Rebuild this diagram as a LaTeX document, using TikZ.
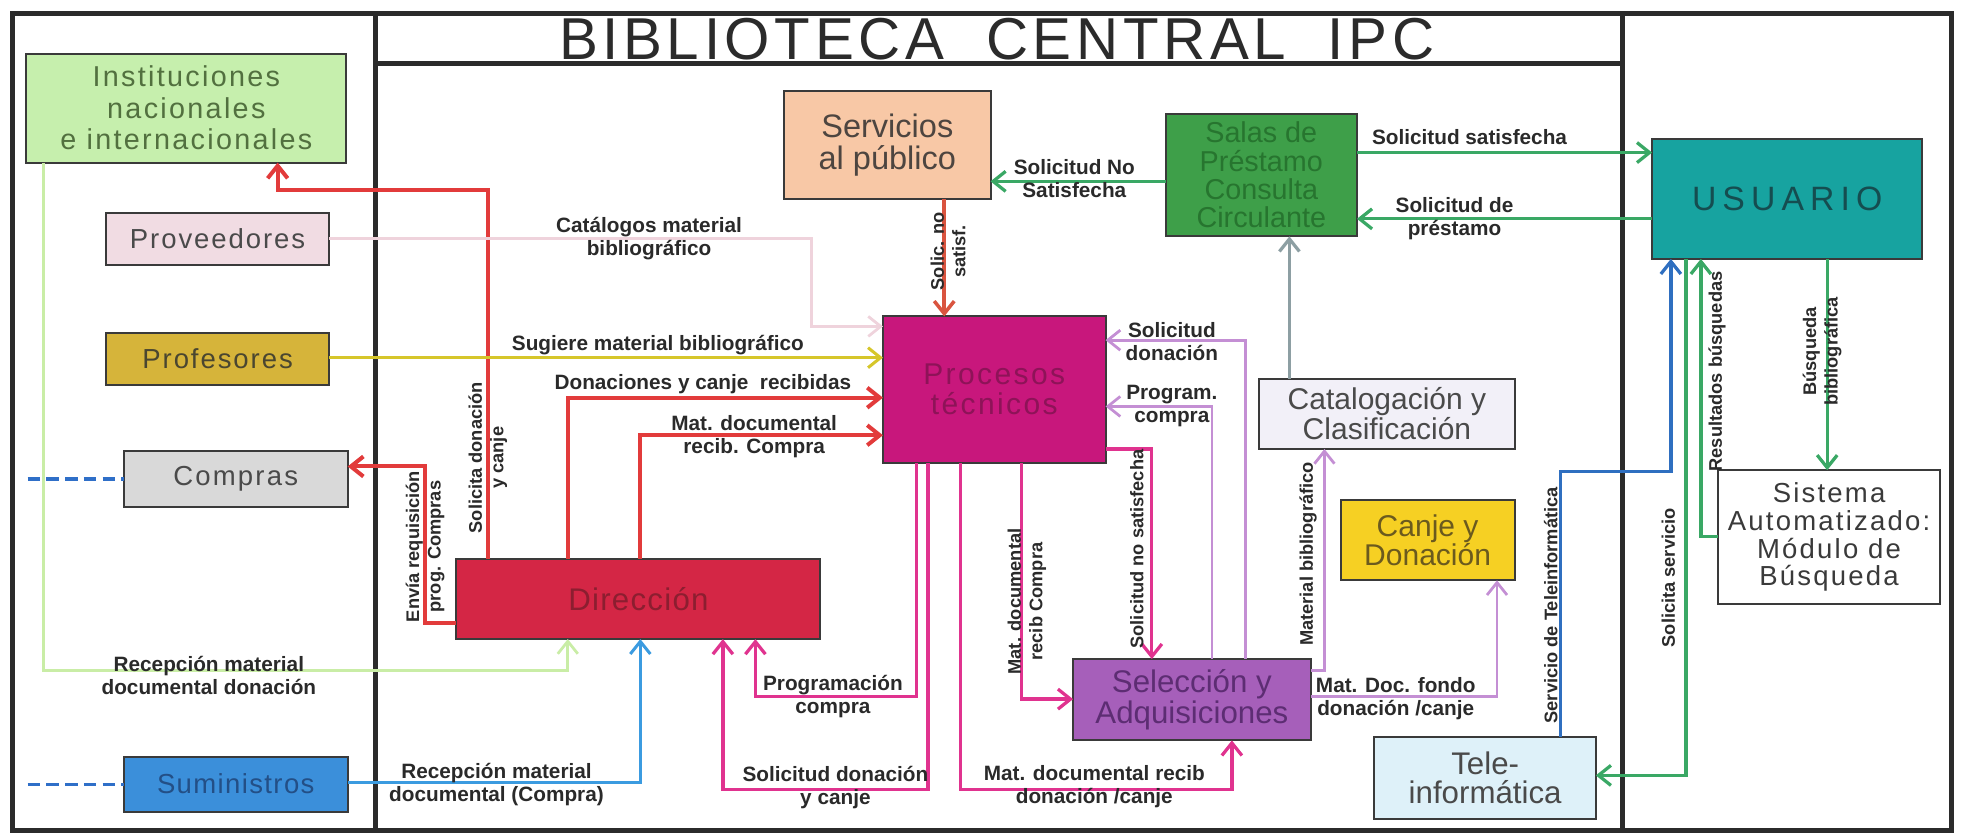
\documentclass[tikz,border=0pt]{standalone}
\usepackage{fontspec}
\setmainfont{Liberation Sans}
\usepackage{graphicx}
\usetikzlibrary{arrows.meta}

\newcommand\setfs[2]{\fontsize{#1}{#2}\selectfont}
\newcommand\lsp[1]{\addfontfeatures{LetterSpace=#1}}

% frame and text colours
\definecolor{cFrame}{HTML}{2B2B2B}
\definecolor{cEdge}{HTML}{3A3A3A}
\definecolor{cLabel}{HTML}{2A2A2A}
% box fills
\definecolor{fInst}{HTML}{C6EFAD}
\definecolor{fProv}{HTML}{F1DCE3}
\definecolor{fProf}{HTML}{D6B43A}
\definecolor{fComp}{HTML}{D9D9D9}
\definecolor{fSum}{HTML}{3B8FDA}
\definecolor{fDir}{HTML}{D42645}
\definecolor{fServ}{HTML}{F8C8A6}
\definecolor{fSalas}{HTML}{3E9F49}
\definecolor{fUsu}{HTML}{17A3A0}
\definecolor{fProc}{HTML}{C8177C}
\definecolor{fCat}{HTML}{F2F0F8}
\definecolor{fCanje}{HTML}{F6D023}
\definecolor{fSel}{HTML}{A65FBA}
\definecolor{fTele}{HTML}{DEF1F9}
% box texts
\definecolor{tInst}{HTML}{52703F}
\definecolor{tGray}{HTML}{4A4A4A}
\definecolor{tProf}{HTML}{4A4630}
\definecolor{tSum}{HTML}{234F86}
\definecolor{tDir}{HTML}{8C1E30}
\definecolor{tServ}{HTML}{4D4540}
\definecolor{tSalas}{HTML}{27752F}
\definecolor{tUsu}{HTML}{154D50}
\definecolor{tProc}{HTML}{8E1358}
\definecolor{tCanje}{HTML}{6B5A1E}
\definecolor{tSel}{HTML}{5D2D73}
\definecolor{tSist}{HTML}{3A3A3A}
% connector colours
\definecolor{cRed}{HTML}{E23B3B}
\definecolor{cMag}{HTML}{E0338F}
\definecolor{cLav}{HTML}{C48FD4}
\definecolor{cPink}{HTML}{EFD3DC}
\definecolor{cYel}{HTML}{D6C62A}
\definecolor{cLG}{HTML}{C9EDA6}
\definecolor{cBlue}{HTML}{3B9BE0}
\definecolor{cDBlue}{HTML}{2F6FC0}
\definecolor{cGreen}{HTML}{3AA865}
\definecolor{cGrayA}{HTML}{8D9FA3}
\definecolor{cOrange}{HTML}{D9543F}
\definecolor{cDash}{HTML}{2F6FC8}

\begin{document}
\begin{tikzpicture}[x=0.5pt,y=-0.5pt,
  box/.style={draw=cEdge, line width=0.8pt, align=center, inner sep=1pt, outer sep=0pt, anchor=north west},
  lbl/.style={font=\bfseries\setfs{8.3}{9.2}, text=cLabel, align=center, inner sep=0pt},
  vlbl/.style={lbl, font=\bfseries\setfs{7.3}{8.6}, rotate=90},
  arr/.style={-{Straight Barb[length=5pt,width=8pt]}},
  frameline/.style={draw=cFrame, line width=2pt},
  redc/.style={draw=cRed, line width=1.6pt, arr},
  magc/.style={draw=cMag, line width=1.3pt, arr},
  lavc/.style={draw=cLav, line width=1.1pt, arr},
  pinkc/.style={draw=cPink, line width=1.1pt, arr},
  yelc/.style={draw=cYel, line width=1.2pt, arr},
  lgc/.style={draw=cLG, line width=1.1pt, arr},
  bluec/.style={draw=cBlue, line width=1.2pt, arr},
  dbluec/.style={draw=cDBlue, line width=1.3pt, arr},
  grc/.style={draw=cGreen, line width=1.3pt, arr},
  grayc/.style={draw=cGrayA, line width=1.3pt, arr},
  orc/.style={draw=cOrange, line width=1.4pt, arr},
  dashc/.style={draw=cDash, line width=1.3pt, dash pattern=on 5pt off 2.5pt}]

\useasboundingbox (0,0) rectangle (1568,668);
\fill[white] (0,0) rectangle (1568,668);

% outer frame: outside entities | library | users
\draw[frameline] (10,11) rectangle (1560,664);
\draw[frameline] (300,11) -- (300,664);
\draw[frameline] (1297,11) -- (1297,664);
\draw[frameline] (300,51) -- (1297,51);
\node[inner sep=0pt, text=cFrame] (title) at (797,31.5)
  {\resizebox{350pt}{16.5pt}{\lsp{8}BIBLIOTECA\ \ CENTRAL\ \ IPC}};

% outside entities
\node[box, fill=fInst, text=tInst, minimum width=128pt, minimum height=43.5pt, font=\setfs{11.5}{12.6}\lsp{8}] (inst) at (21,43) {Instituciones\\nacionales\\e internacionales};
\node[box, fill=fProv, text=tGray, minimum width=89pt, minimum height=21pt, font=\setfs{11}{12}\lsp{7}] (prov) at (85,170) {Proveedores};
\node[box, fill=fProf, text=tProf, minimum width=89pt, minimum height=21pt, font=\setfs{11}{12}\lsp{7}] (prof) at (85,266) {Profesores};
\node[box, fill=fComp, text=tGray, minimum width=89.5pt, minimum height=22pt, font=\setfs{11}{12}\lsp{8}] (compras) at (99,361) {Compras};
\node[box, fill=fSum, text=tSum, minimum width=89.5pt, minimum height=22pt, font=\setfs{11}{12}\lsp{5}] (sumin) at (99,605) {Suministros};

% library units
\node[box, fill=fDir, text=tDir, minimum width=145.5pt, minimum height=32pt, font=\setfs{12.5}{13}\lsp{4}] (dir) at (365,447) {Dirección};
\node[box, fill=fServ, text=tServ, minimum width=82.5pt, minimum height=43pt, font=\setfs{13}{12.5}] (serv) at (627,73) {Servicios\\al público};
\node[box, fill=fSalas, text=tSalas, minimum width=76.5pt, minimum height=49pt, font=\setfs{11.5}{11.3}] (salas) at (932,91) {Salas de\\Préstamo\\Consulta\\Circulante};
\node[box, fill=fProc, text=tProc, minimum width=89pt, minimum height=58.5pt, font=\setfs{12}{12}\lsp{8}] (proc) at (706,253) {Procesos\\técnicos};
\node[box, fill=fCat, text=tGray, minimum width=102pt, minimum height=28pt, font=\setfs{12}{12}] (catal) at (1007,303) {Catalogación y\\Clasificación};
\node[box, fill=fCanje, text=tCanje, minimum width=69.5pt, minimum height=32pt, font=\setfs{12}{11.5}] (canje) at (1072,400) {Canje y\\Donación};
\node[box, fill=fSel, text=tSel, minimum width=95pt, minimum height=32.5pt, font=\setfs{12.5}{12}] (selec) at (858,527) {Selección y\\Adquisiciones};
\node[box, fill=fTele, text=tGray, minimum width=88.5pt, minimum height=33pt, font=\setfs{12.5}{11.5}] (tele) at (1099,589) {Tele-\\informática};

% users
\node[box, fill=fUsu, text=tUsu, minimum width=108pt, minimum height=48pt, font=\setfs{13.5}{14}\lsp{18}] (usuario) at (1321,111) {USUARIO};
\node[box, fill=white, text=tSist, minimum width=88.5pt, minimum height=53.5pt, font=\setfs{11}{11}\lsp{8}] (sist) at (1374,376) {Sistema\\Automatizado:\\Módulo de\\Búsqueda};

% bend points
\coordinate (k1a) at (390,152);  \coordinate (k1b) at (222,152);
\coordinate (k2a) at (340,498);  \coordinate (k2b) at (340,373);
\coordinate (k3) at (454,318);
\coordinate (k4) at (512,348);
\coordinate (k5a) at (649,191);  \coordinate (k5b) at (649,261);
\coordinate (k6) at (0,286);
\coordinate (k7a) at (35,536);   \coordinate (k7b) at (454,536);
\coordinate (k8) at (512,626);
\coordinate (k9) at (755,0);
\coordinate (k10) at (0,145);
\coordinate (k11) at (0,122);
\coordinate (k12) at (0,175);
\coordinate (k13) at (1031,0);
\coordinate (k14) at (996,272);
\coordinate (k15) at (969,325);
\coordinate (k16) at (921,359);
\coordinate (k17) at (817,559);
\coordinate (k18a) at (768,631); \coordinate (k18b) at (985,631);
\coordinate (k19a) at (733,557); \coordinate (k19b) at (604,557);
\coordinate (k20a) at (742,631); \coordinate (k20b) at (578,631);
\coordinate (k21) at (1059,536);
\coordinate (k22) at (1197,557);
\coordinate (k23a) at (1248,377); \coordinate (k23b) at (1336,377);
\coordinate (k24) at (1348,620);
\coordinate (k25) at (1360,429);
\coordinate (k26) at (1461,0);
\coordinate (d1) at (22,383);
\coordinate (d2) at (22,627);

% Dirección outgoing
\draw[redc] (dir.north -| k1a) -- (k1a) -- (k1b) -- (inst.south -| k1b);
\draw[redc] (dir.west |- k2a) -- (k2a) -- (k2b) -- (compras.east |- k2b);
\draw[redc] (dir.north -| k3) |- (proc.west |- k3);
\draw[redc] (dir.north -| k4) |- (proc.west |- k4);
% into Procesos técnicos
\draw[pinkc] (prov.east |- k5a) -- (k5a) -- (k5b) -- (proc.west |- k5b);
\draw[yelc] (prof.east |- k6) -- (proc.west |- k6);
\draw[orc] (serv.south -| k9) -- (proc.north -| k9);
% into Dirección
\draw[lgc] (inst.south -| k7a) -- (k7a) -- (k7b) -- (dir.south -| k7b);
\draw[bluec] (sumin.east |- k8) -| (dir.south -| k8);
% loans
\draw[grc] (salas.west |- k10) -- (serv.east |- k10);
\draw[grc] (salas.east |- k11) -- (usuario.west |- k11);
\draw[grc] (usuario.west |- k12) -- (salas.east |- k12);
\draw[grayc] (catal.north -| k13) -- (salas.south -| k13);
% Selección y Adquisiciones
\draw[lavc] (selec.north -| k14) |- (proc.east |- k14);
\draw[lavc] (selec.north -| k15) |- (proc.east |- k15);
\draw[magc] (proc.east |- k16) -| (selec.north -| k16);
\draw[magc] (proc.south -| k17) |- (selec.west |- k17);
\draw[magc] (proc.south -| k18a) -- (k18a) -- (k18b) -- (selec.south -| k18b);
\draw[magc] (proc.south -| k19a) -- (k19a) -- (k19b) -- (dir.south -| k19b);
\draw[magc] (proc.south -| k20a) -- (k20a) -- (k20b) -- (dir.south -| k20b);
\draw[lavc] (selec.east |- k21) -| (catal.south -| k21);
\draw[lavc] (selec.east |- k22) -| (canje.south -| k22);
% users and teleinformática
\draw[dbluec] (tele.north -| k23a) -- (k23a) -- (k23b) -- (usuario.south -| k23b);
\draw[grc] (usuario.south -| k24) |- (tele.east |- k24);
\draw[grc] (sist.west |- k25) -| (usuario.south -| k25);
\draw[grc] (usuario.south -| k26) -- (sist.north -| k26);
% outside links
\draw[dashc] (d1) -- (compras.west |- d1);
\draw[dashc] (d2) -- (sumin.west |- d2);

% connector labels
\node[vlbl] (l1) at (390,366) {Solicita donación\\y canje};
\node[vlbl] (l2) at (340,437) {Envía requisición\\prog. Compras};
\node[lbl] (l3) at (562,307) {Donaciones y canje\ \ recibidas};
\node[lbl] (l4) at (603,349) {Mat. documental\\recib. Compra};
\node[lbl] (l5) at (519,191) {Catálogos material\\bibliográfico};
\node[lbl] (l6) at (526,276) {Sugiere material bibliográfico};
\node[lbl] (l7) at (167,540) {Recepción material\\documental donación};
\node[lbl] (l8) at (397,627) {Recepción material\\documental (Compra)};
\node[vlbl] (l9) at (758,201) {Solic. no\\satisf.};
\node[lbl] (l10) at (859,143) {Solicitud No\\Satisfecha};
\node[lbl] (l11) at (1175,110) {Solicitud satisfecha};
\node[lbl] (l12) at (1163,175) {Solicitud de\\préstamo};
\node[lbl] (l14) at (937,273) {Solicitud\\donación};
\node[lbl] (l15) at (937,325) {Program.\\compra};
\node[vlbl] (l16) at (909,439) {Solicitud no satisfecha};
\node[vlbl] (l17) at (821,481) {Mat. documental\\recib Compra};
\node[lbl] (l18) at (875,629) {Mat. documental recib\\donación /canje};
\node[lbl] (l19) at (666,557) {Programación\\compra};
\node[lbl] (l20) at (668,630) {Solicitud donación\\y canje};
\node[vlbl] (l21) at (1046,443) {Material bibliográfico};
\node[lbl] (l22) at (1116,559) {Mat. Doc. fondo\\donación /canje};
\node[vlbl] (l23) at (1240,484) {Servicio de Teleinformática};
\node[vlbl] (l24) at (1334,462) {Solicita servicio};
\node[vlbl] (l25) at (1373,297) {Resultados búsquedas};
\node[vlbl] (l26) at (1457,281) {Búsqueda\\bibliográfica};
\end{tikzpicture}
\end{document}
